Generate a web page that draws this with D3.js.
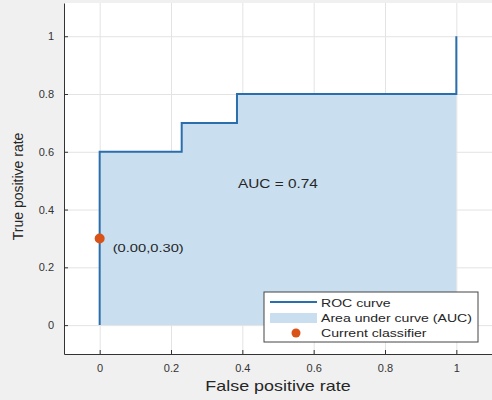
<!DOCTYPE html>
<html>
<head>
<meta charset="utf-8">
<script src="https://cdn.jsdelivr.net/npm/d3@7"></script>
<style>
  body { margin: 0; background: #f0f0f0; }
  svg { display: block; font-family: "Liberation Sans", Arial, sans-serif; }
</style>
</head>
<body>
<div id="chart"></div>
<script>
// ROC curve points (false positive rate, true positive rate)
const rocFpr = [0, 0, 0.23, 0.23, 0.385, 0.385, 1, 1];
const rocTpr = [0, 0.6, 0.6, 0.7, 0.7, 0.8, 0.8, 1];
const currentPoint = [0, 0.3];
const aucValue = 0.74;
const tickValues = [0, 0.2, 0.4, 0.6, 0.8, 1];
const legendLabels = ["ROC curve", "Area under curve (AUC)", "Current classifier"];

const width = 492;
const height = 400;

const lineColor = "#2a6eab";
const fillColor = "#c9dff0";
const dotColor = "#d95319";
const axisColor = "#333";
const textColor = "#262626";
// the figure text is rendered a bit wide
const sx = 1.28;

const x = d3.scaleLinear().domain([-0.1, 1.1]).range([64, 492]);
const y = d3.scaleLinear().domain([-0.1, 1.115]).range([354, 3]);

const svg = d3.select("#chart")
  .append("svg")
  .attr("width", width)
  .attr("height", height)
  .attr("viewBox", `0 0 ${width} ${height}`);

function wideText(parent, tx, ty, size, anchor) {
  return parent.append("text")
    .attr("transform", `translate(${tx},${ty}) scale(${sx},1)`)
    .attr("text-anchor", anchor || "start")
    .attr("font-size", size)
    .attr("fill", textColor);
}

// axes background
svg.append("rect")
  .attr("x", x.range()[0])
  .attr("y", y.range()[1])
  .attr("width", x.range()[1] - x.range()[0])
  .attr("height", y.range()[0] - y.range()[1])
  .attr("fill", "#fff");

// grid
svg.append("g")
  .attr("transform", `translate(0, ${y.range()[0]})`)
  .call(d3.axisBottom(x).tickValues(tickValues).tickSize(-(y.range()[0] - y.range()[1])).tickFormat(""))
  .call(g => g.select(".domain").remove())
  .call(g => g.selectAll("line").attr("stroke", "#e3e3e3"));

svg.append("g")
  .attr("transform", `translate(${x.range()[0]}, 0)`)
  .call(d3.axisLeft(y).tickValues(tickValues).tickSize(-(x.range()[1] - x.range()[0])).tickFormat(""))
  .call(g => g.select(".domain").remove())
  .call(g => g.selectAll("line").attr("stroke", "#e3e3e3"));

const rocData = rocFpr.map((f, i) => [f, rocTpr[i]]);

// area under curve
svg.append("path")
  .datum(rocData)
  .attr("fill", fillColor)
  .attr("d", d3.area().x(d => x(d[0])).y0(y(0)).y1(d => y(d[1])));

// roc line
svg.append("path")
  .datum(rocData)
  .attr("fill", "none")
  .attr("stroke", lineColor)
  .attr("stroke-width", 2)
  .attr("d", d3.line().x(d => x(d[0])).y(d => y(d[1])));

// current classifier
svg.append("circle")
  .attr("cx", x(currentPoint[0]))
  .attr("cy", y(currentPoint[1]))
  .attr("r", 5)
  .attr("fill", dotColor);

wideText(svg, x(currentPoint[0]) + 13, y(currentPoint[1]) + 14, 11.5)
  .text(`(${currentPoint[0].toFixed(2)},${currentPoint[1].toFixed(2)})`);

wideText(svg, x(0.388), y(0.475), 12)
  .text(`AUC = ${aucValue.toFixed(2)}`);

// axes
svg.append("g")
  .attr("transform", `translate(0, ${y.range()[0]})`)
  .call(d3.axisBottom(x).tickValues(tickValues).tickSize(-4).tickSizeOuter(0).tickPadding(10).tickFormat(d3.format("~g")))
  .call(g => g.select(".domain").attr("stroke", axisColor))
  .call(g => g.selectAll(".tick line").attr("stroke", axisColor))
  .call(g => g.selectAll("text").attr("font-size", 11).attr("fill", "#333").attr("font-family", null));

svg.append("g")
  .attr("transform", `translate(${x.range()[0]}, 0)`)
  .call(d3.axisLeft(y).tickValues(tickValues).tickSize(-4).tickSizeOuter(0).tickPadding(10).tickFormat(d3.format("~g")))
  .call(g => g.select(".domain").attr("stroke", axisColor))
  .call(g => g.selectAll(".tick line").attr("stroke", axisColor))
  .call(g => g.selectAll("text").attr("font-size", 11).attr("fill", "#333").attr("font-family", null));

// axis labels
wideText(svg, (x.range()[0] + x.range()[1]) / 2, 391, 14, "middle")
  .text("False positive rate");

svg.append("text")
  .attr("transform", `translate(23, ${y(0.48)}) rotate(-90)`)
  .attr("text-anchor", "middle")
  .attr("font-size", 14)
  .attr("fill", textColor)
  .text("True positive rate");

// legend
const legend = svg.append("g").attr("transform", "translate(264, 292)");
legend.append("rect")
  .attr("width", 214)
  .attr("height", 50)
  .attr("fill", "#fff")
  .attr("stroke", "#444");

legend.append("line")
  .attr("x1", 6).attr("x2", 53).attr("y1", 10).attr("y2", 10)
  .attr("stroke", lineColor).attr("stroke-width", 2);
legend.append("rect")
  .attr("x", 6).attr("y", 21).attr("width", 47).attr("height", 10)
  .attr("fill", fillColor);
legend.append("circle")
  .attr("cx", 32).attr("cy", 41).attr("r", 4.5)
  .attr("fill", dotColor);

legendLabels.forEach((d, i) => {
  wideText(legend, 57, [14.5, 30, 45][i], 11).text(d);
});
</script>
</body>
</html>
